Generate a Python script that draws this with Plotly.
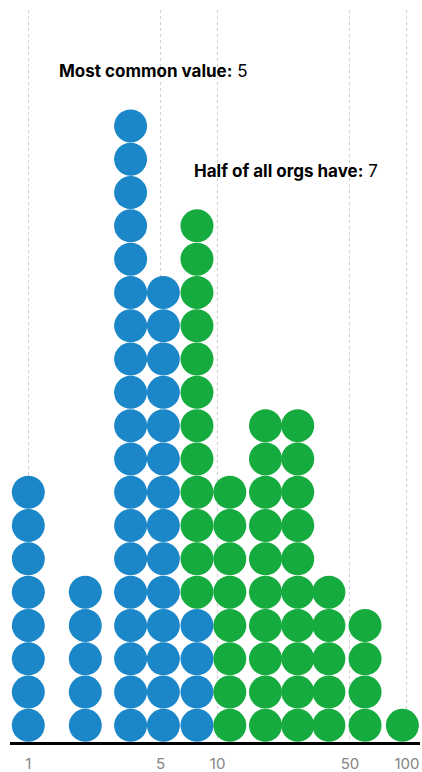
import plotly.graph_objects as go

# Column positions on the log axis (value of each dot column)
column_values = [1, 2, 3.47, 5.17, 7.78, 11.6, 17.9, 26.5, 38.7, 60.1, 94.6]
# Number of dots per column in each half
blue_counts = [8, 5, 19, 14, 4, 0, 0, 0, 0, 0, 0]
green_counts = [0, 0, 0, 0, 12, 8, 10, 10, 5, 4, 1]
tick_values = [1, 5, 10, 50, 100]
tick_labels = ["1", "5", "10", "50", "100"]

BLUE = "#1b87c9"
GREEN = "#15ab3e"

bx, by, gx, gy = [], [], [], []
for v, nb, ng in zip(column_values, blue_counts, green_counts):
    for i in range(nb):
        bx.append(v); by.append(i)
    for j in range(ng):
        gx.append(v); gy.append(nb + j)

W, H = 422, 772
ml, mr, mt, mb = 10, 2, 10, 30
unit = 33.3
plot_h = H - mt - mb
y_top = -0.5 + plot_h / unit

fig = go.Figure()
fig.add_trace(go.Scatter(x=bx, y=by, mode="markers",
                         marker=dict(size=33, color=BLUE, line=dict(width=0)),
                         hoverinfo="skip", showlegend=False))
fig.add_trace(go.Scatter(x=gx, y=gy, mode="markers",
                         marker=dict(size=33, color=GREEN, line=dict(width=0)),
                         hoverinfo="skip", showlegend=False))

fig.update_layout(
    width=W, height=H,
    margin=dict(l=ml, r=mr, t=mt, b=mb, autoexpand=False),
    paper_bgcolor="white", plot_bgcolor="white",
    font=dict(family="Inter, Liberation Sans, sans-serif"),
    xaxis=dict(type="log", range=[-0.0967, 2.069], automargin=False,
               tickvals=tick_values, ticktext=tick_labels,
               showgrid=True, gridcolor="#cfcfcf", griddash="dot", gridwidth=1,
               showline=True, linecolor="black", linewidth=2.5,
               ticks="", zeroline=False, ticklabelstandoff=6,
               tickfont=dict(size=15, color="#858585"),
               fixedrange=True),
    yaxis=dict(range=[-0.5, y_top], visible=False, fixedrange=True),
    annotations=[
        dict(xref="paper", yref="paper", x=(57 - ml) / (W - ml - mr),
             y=(H - mb - 71) / plot_h, xanchor="left", yanchor="middle",
             text="<b>Most common value:</b> 5", showarrow=False,
             font=dict(size=17, color="black")),
        dict(xref="paper", yref="paper", x=(192 - ml) / (W - ml - mr),
             y=(H - mb - 171) / plot_h, xanchor="left", yanchor="middle",
             text="<b>Half of all orgs have:</b> 7", showarrow=False,
             font=dict(size=17, color="black")),
    ],
)

fig.write_html("out.html", config={"displayModeBar": False},
               post_script="document.body.style.margin='0';")
